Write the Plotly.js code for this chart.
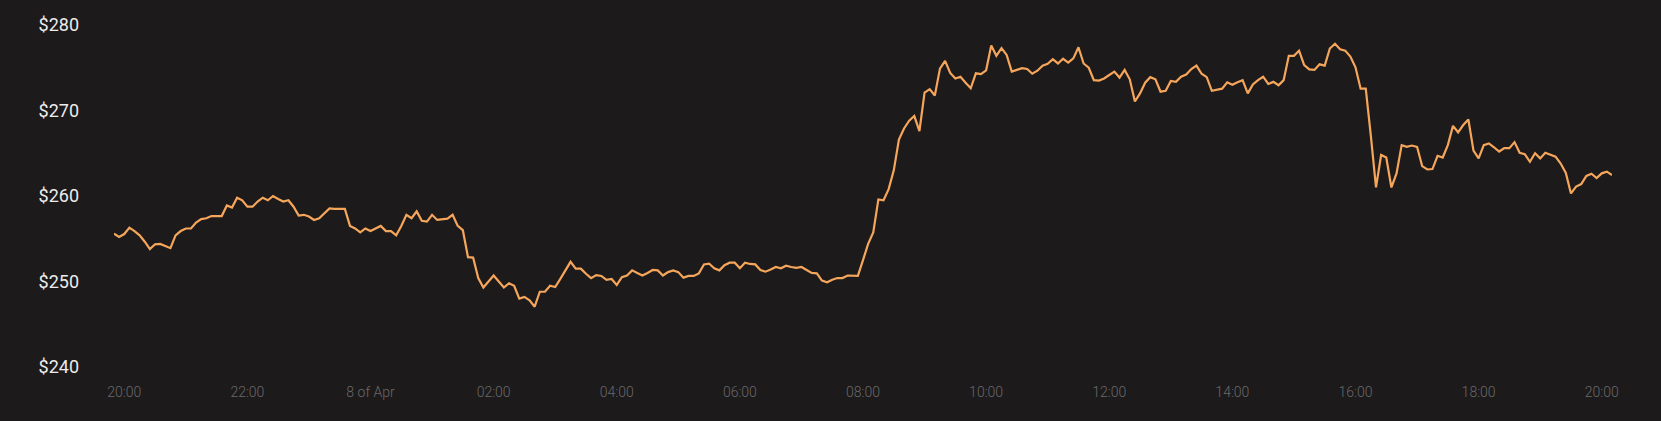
<!DOCTYPE html>
<html>
<head>
<meta charset="utf-8">
<script src="https://cdn.plot.ly/plotly-3.0.1.min.js"></script>
<style>
html,body{margin:0;padding:0;background:#1c1a1b;}
#chart{width:1661px;height:421px;}
</style>
</head>
<body>
<div id="chart"></div>
<script>
const times = [
"2024-04-07 19:50","2024-04-07 19:55",
"2024-04-07 20:00","2024-04-07 20:05","2024-04-07 20:10","2024-04-07 20:15","2024-04-07 20:20","2024-04-07 20:25","2024-04-07 20:30","2024-04-07 20:35","2024-04-07 20:40","2024-04-07 20:45","2024-04-07 20:50","2024-04-07 20:55",
"2024-04-07 21:00","2024-04-07 21:05","2024-04-07 21:10","2024-04-07 21:15","2024-04-07 21:20","2024-04-07 21:25","2024-04-07 21:30","2024-04-07 21:35","2024-04-07 21:40","2024-04-07 21:45","2024-04-07 21:50","2024-04-07 21:55",
"2024-04-07 22:00","2024-04-07 22:05","2024-04-07 22:10","2024-04-07 22:15","2024-04-07 22:20","2024-04-07 22:25","2024-04-07 22:30","2024-04-07 22:35","2024-04-07 22:40","2024-04-07 22:45","2024-04-07 22:50","2024-04-07 22:55",
"2024-04-07 23:00","2024-04-07 23:05","2024-04-07 23:10","2024-04-07 23:15","2024-04-07 23:20","2024-04-07 23:25","2024-04-07 23:30","2024-04-07 23:35","2024-04-07 23:40","2024-04-07 23:45","2024-04-07 23:50","2024-04-07 23:55",
"2024-04-08 00:00","2024-04-08 00:05","2024-04-08 00:10","2024-04-08 00:15","2024-04-08 00:20","2024-04-08 00:25","2024-04-08 00:30","2024-04-08 00:35","2024-04-08 00:40","2024-04-08 00:45","2024-04-08 00:50","2024-04-08 00:55",
"2024-04-08 01:00","2024-04-08 01:05","2024-04-08 01:10","2024-04-08 01:15","2024-04-08 01:20","2024-04-08 01:25","2024-04-08 01:30","2024-04-08 01:35","2024-04-08 01:40","2024-04-08 01:45","2024-04-08 01:50","2024-04-08 01:55",
"2024-04-08 02:00","2024-04-08 02:05","2024-04-08 02:10","2024-04-08 02:15","2024-04-08 02:20","2024-04-08 02:25","2024-04-08 02:30","2024-04-08 02:35","2024-04-08 02:40","2024-04-08 02:45","2024-04-08 02:50","2024-04-08 02:55",
"2024-04-08 03:00","2024-04-08 03:05","2024-04-08 03:10","2024-04-08 03:15","2024-04-08 03:20","2024-04-08 03:25","2024-04-08 03:30","2024-04-08 03:35","2024-04-08 03:40","2024-04-08 03:45","2024-04-08 03:50","2024-04-08 03:55",
"2024-04-08 04:00","2024-04-08 04:05","2024-04-08 04:10","2024-04-08 04:15","2024-04-08 04:20","2024-04-08 04:25","2024-04-08 04:30","2024-04-08 04:35","2024-04-08 04:40","2024-04-08 04:45","2024-04-08 04:50","2024-04-08 04:55",
"2024-04-08 05:00","2024-04-08 05:05","2024-04-08 05:10","2024-04-08 05:15","2024-04-08 05:20","2024-04-08 05:25","2024-04-08 05:30","2024-04-08 05:35","2024-04-08 05:40","2024-04-08 05:45","2024-04-08 05:50","2024-04-08 05:55",
"2024-04-08 06:00","2024-04-08 06:05","2024-04-08 06:10","2024-04-08 06:15","2024-04-08 06:20","2024-04-08 06:25","2024-04-08 06:30","2024-04-08 06:35","2024-04-08 06:40","2024-04-08 06:45","2024-04-08 06:50","2024-04-08 06:55",
"2024-04-08 07:00","2024-04-08 07:05","2024-04-08 07:10","2024-04-08 07:15","2024-04-08 07:20","2024-04-08 07:25","2024-04-08 07:30","2024-04-08 07:35","2024-04-08 07:40","2024-04-08 07:45","2024-04-08 07:50","2024-04-08 07:55",
"2024-04-08 08:00","2024-04-08 08:05","2024-04-08 08:10","2024-04-08 08:15","2024-04-08 08:20","2024-04-08 08:25","2024-04-08 08:30","2024-04-08 08:35","2024-04-08 08:40","2024-04-08 08:45","2024-04-08 08:50","2024-04-08 08:55",
"2024-04-08 09:00","2024-04-08 09:05","2024-04-08 09:10","2024-04-08 09:15","2024-04-08 09:20","2024-04-08 09:25","2024-04-08 09:30","2024-04-08 09:35","2024-04-08 09:40","2024-04-08 09:45","2024-04-08 09:50","2024-04-08 09:55",
"2024-04-08 10:00","2024-04-08 10:05","2024-04-08 10:10","2024-04-08 10:15","2024-04-08 10:20","2024-04-08 10:25","2024-04-08 10:30","2024-04-08 10:35","2024-04-08 10:40","2024-04-08 10:45","2024-04-08 10:50","2024-04-08 10:55",
"2024-04-08 11:00","2024-04-08 11:05","2024-04-08 11:10","2024-04-08 11:15","2024-04-08 11:20","2024-04-08 11:25","2024-04-08 11:30","2024-04-08 11:35","2024-04-08 11:40","2024-04-08 11:45","2024-04-08 11:50","2024-04-08 11:55",
"2024-04-08 12:00","2024-04-08 12:05","2024-04-08 12:10","2024-04-08 12:15","2024-04-08 12:20","2024-04-08 12:25","2024-04-08 12:30","2024-04-08 12:35","2024-04-08 12:40","2024-04-08 12:45","2024-04-08 12:50","2024-04-08 12:55",
"2024-04-08 13:00","2024-04-08 13:05","2024-04-08 13:10","2024-04-08 13:15","2024-04-08 13:20","2024-04-08 13:25","2024-04-08 13:30","2024-04-08 13:35","2024-04-08 13:40","2024-04-08 13:45","2024-04-08 13:50","2024-04-08 13:55",
"2024-04-08 14:00","2024-04-08 14:05","2024-04-08 14:10","2024-04-08 14:15","2024-04-08 14:20","2024-04-08 14:25","2024-04-08 14:30","2024-04-08 14:35","2024-04-08 14:40","2024-04-08 14:45","2024-04-08 14:50","2024-04-08 14:55",
"2024-04-08 15:00","2024-04-08 15:05","2024-04-08 15:10","2024-04-08 15:15","2024-04-08 15:20","2024-04-08 15:25","2024-04-08 15:30","2024-04-08 15:35","2024-04-08 15:40","2024-04-08 15:45","2024-04-08 15:50","2024-04-08 15:55",
"2024-04-08 16:00","2024-04-08 16:05","2024-04-08 16:10","2024-04-08 16:15","2024-04-08 16:20","2024-04-08 16:25","2024-04-08 16:30","2024-04-08 16:35","2024-04-08 16:40","2024-04-08 16:45","2024-04-08 16:50","2024-04-08 16:55",
"2024-04-08 17:00","2024-04-08 17:05","2024-04-08 17:10","2024-04-08 17:15","2024-04-08 17:20","2024-04-08 17:25","2024-04-08 17:30","2024-04-08 17:35","2024-04-08 17:40","2024-04-08 17:45","2024-04-08 17:50","2024-04-08 17:55",
"2024-04-08 18:00","2024-04-08 18:05","2024-04-08 18:10","2024-04-08 18:15","2024-04-08 18:20","2024-04-08 18:25","2024-04-08 18:30","2024-04-08 18:35","2024-04-08 18:40","2024-04-08 18:45","2024-04-08 18:50","2024-04-08 18:55",
"2024-04-08 19:00","2024-04-08 19:05","2024-04-08 19:10","2024-04-08 19:15","2024-04-08 19:20","2024-04-08 19:25","2024-04-08 19:30","2024-04-08 19:35","2024-04-08 19:40","2024-04-08 19:45","2024-04-08 19:50","2024-04-08 19:55",
"2024-04-08 20:00","2024-04-08 20:05","2024-04-08 20:10"
];

const prices = [
255.6,255.2,
255.55,256.3,255.9,255.4,254.65,253.8,254.35,254.4,254.15,253.9,255.4,255.9,
256.2,256.2,256.9,257.3,257.4,257.65,257.65,257.65,258.9,258.65,259.8,259.5,
258.75,258.75,259.35,259.8,259.5,260.0,259.65,259.35,259.5,258.75,257.7,257.8,
257.6,257.2,257.4,258.0,258.55,258.5,258.5,258.5,256.5,256.2,255.75,256.2,
255.9,256.2,256.5,255.9,255.9,255.4,256.5,257.8,257.4,258.2,257.1,257.0,
257.8,257.2,257.3,257.35,257.8,256.5,256.0,252.85,252.8,250.4,249.3,249.95,
250.7,250.0,249.3,249.8,249.5,248.0,248.2,247.8,247.05,248.8,248.8,249.5,
249.35,250.3,251.3,252.3,251.5,251.5,250.9,250.4,250.75,250.65,250.2,250.3,
249.6,250.5,250.7,251.3,251.0,250.7,251.0,251.35,251.3,250.7,251.1,251.3,
251.1,250.45,250.65,250.65,250.95,252.0,252.1,251.55,251.3,251.9,252.2,252.2,
251.55,252.2,252.05,252.0,251.35,251.15,251.4,251.7,251.55,251.85,251.7,251.6,
251.7,251.3,251.0,250.95,250.1,249.9,250.2,250.4,250.4,250.7,250.7,250.65,
252.5,254.4,255.75,259.6,259.5,260.8,263.0,266.6,267.9,268.8,269.35,267.6,
272.1,272.5,271.75,274.9,275.8,274.4,273.75,273.95,273.25,272.6,274.35,274.25,
274.7,277.6,276.4,277.3,276.5,274.55,274.75,274.95,274.85,274.3,274.65,275.25,
275.45,276.0,275.5,276.05,275.6,276.1,277.4,275.5,275.0,273.55,273.5,273.75,
274.15,274.55,273.85,274.75,273.65,271.05,272.0,273.25,273.9,273.65,272.2,272.3,
273.45,273.35,273.95,274.2,274.85,275.25,274.3,273.9,272.3,272.4,272.55,273.3,
273.0,273.3,273.55,272.0,273.05,273.55,273.95,273.1,273.35,272.95,273.55,276.4,
276.4,277.0,275.3,274.8,274.75,275.4,275.25,277.25,277.8,277.15,277.0,276.3,
275.05,272.55,272.55,267.0,261.0,264.8,264.5,261.0,262.65,265.95,265.75,265.9,
265.75,263.5,263.1,263.15,264.7,264.5,265.95,268.2,267.45,268.3,268.95,265.3,
264.4,265.95,266.15,265.7,265.2,265.6,265.6,266.3,265.05,264.9,264.0,265.0,
264.4,265.05,264.8,264.6,263.8,262.7,260.3,261.1,261.4,262.35,262.6,262.1,
262.65,262.85,262.45
];

const xTickVals = [
"2024-04-07 20:00","2024-04-07 22:00","2024-04-08 00:00","2024-04-08 02:00",
"2024-04-08 04:00","2024-04-08 06:00","2024-04-08 08:00","2024-04-08 10:00",
"2024-04-08 12:00","2024-04-08 14:00","2024-04-08 16:00","2024-04-08 18:00",
"2024-04-08 20:00"
];
const xTickText = ["20:00","22:00","8 of Apr","02:00","04:00","06:00","08:00","10:00","12:00","14:00","16:00","18:00","20:00"];

const yTickVals = [240,250,260,270,280];
const yTickText = ["$240","$250","$260","$270","$280"];

const trace = {
  x: times,
  y: prices,
  type: "scatter",
  mode: "lines",
  line: {color: "#f6a65b", width: 2.2},
  hoverinfo: "skip"
};

const layout = {
  width: 1661,
  height: 421,
  paper_bgcolor: "#1c1a1b",
  plot_bgcolor: "#1c1a1b",
  margin: {l: 114, r: 49, t: 25, b: 54, pad: 0},
  showlegend: false,
  xaxis: {
    type: "date",
    range: ["2024-04-07 19:50", "2024-04-08 20:10"],
    tickmode: "array",
    tickvals: xTickVals,
    ticktext: xTickText,
    showgrid: false,
    zeroline: false,
    showline: false,
    ticks: "",
    ticklabelstandoff: 15,
    tickfont: {family: "Roboto, sans-serif", size: 14, color: "#6a6869", weight: 300}
  },
  yaxis: {
    range: [240, 280],
    tickmode: "array",
    tickvals: yTickVals,
    ticktext: yTickText,
    showgrid: false,
    zeroline: false,
    showline: false,
    ticks: "",
    ticklabelstandoff: 34,
    tickfont: {family: "Roboto, sans-serif", size: 18, color: "#ececec"}
  }
};

Plotly.newPlot("chart", [trace], layout, {staticPlot: true, displayModeBar: false});
</script>
</body>
</html>
